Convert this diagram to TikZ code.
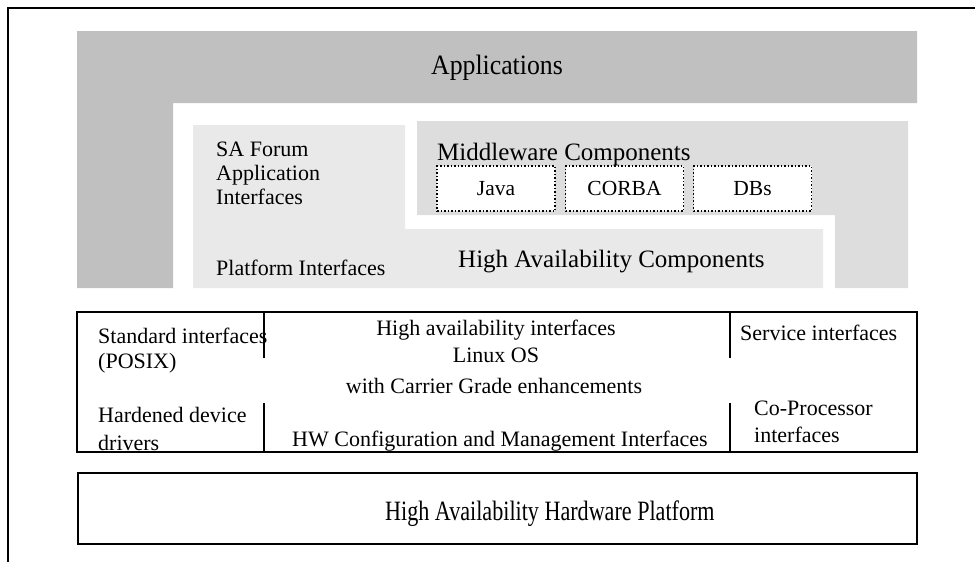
\documentclass[tikz,border=0pt]{standalone}
\usepackage{fontspec}
\setmainfont{Liberation Serif}
\usepackage{tikz}
\definecolor{appgray}{HTML}{C0C0C0}
\definecolor{mwgray}{HTML}{DDDDDD}
\definecolor{hagray}{HTML}{E9E9E9}
\tikzset{lbl/.style={inner sep=0pt, anchor=base west, font=\fontsize{22}{26}\selectfont},
big/.style={inner sep=0pt, anchor=base west, font=\fontsize{25}{30}\selectfont},
comp/.style={draw, dotted, line width=1.5pt, fill=white, inner sep=0pt,
  minimum width=118pt, minimum height=45pt, font=\fontsize{21.5}{26}\selectfont},
frame/.style={line width=1.8pt}
}

\begin{document}
\begin{tikzpicture}[x=1pt, y=-1pt]
        \useasboundingbox (0,0) rectangle (975,562);
        \draw[frame] (975,8) -- (8,8) -- (8,562);

        % upper layers
        \fill[appgray] (77,31) -- (917,31) -- (917,103) -- (173,103) -- (173,288) -- (77,288) -- cycle;
        \fill[mwgray]  (417,121) -- (908,121) -- (908,288) -- (835,288) -- (835,215) -- (417,215) -- cycle;
        \fill[hagray]  (193,125) -- (405,125) -- (405,229) -- (823,229) -- (823,288) -- (193,288) -- cycle;

        \node[inner sep=0pt, anchor=base, font=\fontsize{28}{32}\selectfont] (app) at (497,74)
              {\scalebox{0.92}[1]{Applications}};
        \node[lbl] (saf1) at (216,156) {SA Forum};
        \node[lbl] (saf2) at (216,180) {Application};
        \node[lbl] (saf3) at (216,204) {Interfaces};
        \node[lbl] (plif) at (216,275) {Platform Interfaces};
        \node[big] (mw)   at (437,160) {Middleware Components};
        \node[big] (hac)  at (458,267) {High Availability Components};
        \node[comp] (java)  at (496,188.5) {Java};
        \node[comp] (corba) at (624.5,188.5) {CORBA};
        \node[comp] (dbs)   at (752.5,188.5) {DBs};

        % operating system layer
        \node[lbl] (std1) at (98,343) {Standard interfaces};
        \node[lbl] (std2) at (98,368) {(POSIX)};
        \node[lbl] (hdd1) at (98,422) {Hardened device};
        \node[lbl] (hdd2) at (98,450) {drivers};
        \node[lbl, anchor=base] (hai)  at (496,335) {High availability interfaces};
        \node[lbl, anchor=base] (os)   at (496,362) {Linux OS};
        \node[lbl, anchor=base] (cge)  at (494,393) {with Carrier Grade enhancements};
        \node[lbl] (hwc)  at (292,446) {HW Configuration and Management Interfaces};
        \node[lbl] (svc)  at (740,340) {Service interfaces};
        \node[lbl] (cop1) at (754,415) {Co-Processor};
        \node[lbl] (cop2) at (754,442) {interfaces};
        \draw[frame] (77,312) rectangle (917,452);
        \draw[frame] (264,312) -- (264,358) (264,403) -- (264,452)
                     (730,312) -- (730,358) (730,403) -- (730,452);

        % hardware layer
        \draw[frame] (78,473) rectangle (917,544);
        \node[inner sep=0pt, anchor=base west, font=\fontsize{28}{32}\selectfont] (hw) at (385,520)
              {\scalebox{0.79}[1]{High Availability Hardware Platform}};
\end{tikzpicture}
\end{document}
